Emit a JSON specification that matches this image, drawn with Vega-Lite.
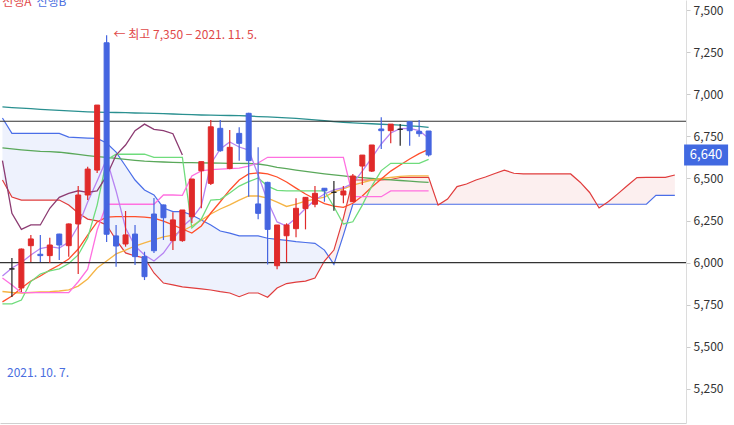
{
  "$schema": "https://vega.github.io/schema/vega-lite/v6.json",
  "width": 686,
  "height": 423,
  "autosize": {"type": "none"},
  "padding": {"left": 0, "top": 0, "right": 48, "bottom": 2},
  "background": "white",
  "config": {
    "view": {"stroke": null},
    "font": "Noto Sans CJK KR",
    "axisX": {"labels": false, "ticks": false, "grid": false, "domainColor": "#d0d0d0"},
    "axisY": {"grid": false, "domainColor": "#dcdcdc", "tickColor": "#cccccc", "tickSize": 4, "labelPadding": 3, "labelColor": "#333333", "labelFontSize": 12, "labelFont": "Noto Sans CJK KR"}
  },
  "datasets": {
    "k": [
      {"i":0,"o":5963,"h":6028,"l":5796,"c":5963},
      {"i":1,"o":5850,"h":6085,"l":5826,"c":6081},
      {"i":2,"o":6101,"h":6165,"l":6004,"c":6141},
      {"i":3,"o":6050,"h":6165,"l":6004,"c":6042},
      {"i":4,"o":6042,"h":6148,"l":5998,"c":6105},
      {"i":5,"o":6170,"h":6172,"l":6016,"c":6105},
      {"i":6,"o":6101,"h":6232,"l":6036,"c":6230},
      {"i":7,"o":6230,"h":6455,"l":5933,"c":6402},
      {"i":8,"o":6402,"h":6570,"l":6372,"c":6556},
      {"i":9,"o":6550,"h":6936,"l":6533,"c":6936},
      {"i":10,"o":7306,"h":7350,"l":6123,"c":6169},
      {"i":11,"o":6159,"h":6224,"l":5976,"c":6099},
      {"i":12,"o":6111,"h":6307,"l":6095,"c":6165},
      {"i":13,"o":6170,"h":6224,"l":5986,"c":6036},
      {"i":14,"o":6036,"h":6065,"l":5897,"c":5917},
      {"i":15,"o":6289,"h":6384,"l":6058,"c":6071},
      {"i":16,"o":6343,"h":6345,"l":6135,"c":6267},
      {"i":17,"o":6131,"h":6300,"l":6075,"c":6254},
      {"i":18,"o":6131,"h":6313,"l":6125,"c":6313},
      {"i":19,"o":6273,"h":6497,"l":6236,"c":6497},
      {"i":20,"o":6546,"h":6600,"l":6323,"c":6600},
      {"i":21,"o":6471,"h":6847,"l":6461,"c":6807},
      {"i":22,"o":6798,"h":6847,"l":6659,"c":6665},
      {"i":23,"o":6560,"h":6788,"l":6555,"c":6685},
      {"i":24,"o":6768,"h":6804,"l":6606,"c":6709},
      {"i":25,"o":6887,"h":6890,"l":6392,"c":6606},
      {"i":26,"o":6349,"h":6685,"l":6258,"c":6293},
      {"i":27,"o":6477,"h":6480,"l":5990,"c":6198},
      {"i":28,"o":5982,"h":6224,"l":5961,"c":6224},
      {"i":29,"o":6160,"h":6234,"l":6002,"c":6224},
      {"i":30,"o":6202,"h":6382,"l":6151,"c":6323},
      {"i":31,"o":6321,"h":6390,"l":6198,"c":6388},
      {"i":32,"o":6347,"h":6455,"l":6329,"c":6412},
      {"i":33,"o":6442,"h":6442,"l":6362,"c":6427},
      {"i":34,"o":6418,"h":6485,"l":6309,"c":6418},
      {"i":35,"o":6402,"h":6455,"l":6353,"c":6426},
      {"i":36,"o":6362,"h":6527,"l":6360,"c":6515},
      {"i":37,"o":6574,"h":6639,"l":6461,"c":6639},
      {"i":38,"o":6544,"h":6699,"l":6538,"c":6699},
      {"i":39,"o":6794,"h":6863,"l":6675,"c":6784},
      {"i":40,"o":6784,"h":6823,"l":6709,"c":6823},
      {"i":41,"o":6792,"h":6823,"l":6695,"c":6792},
      {"i":42,"o":6837,"h":6840,"l":6695,"c":6784},
      {"i":43,"o":6780,"h":6847,"l":6748,"c":6766},
      {"i":44,"o":6782,"h":6782,"l":6630,"c":6640}
    ],
    "ln": [
      {"i":-1,"ma5":5921,"ma20":5767,"ma60":5829,"ma120":6682,"ma240":6925,"tk":5909,"kj":5755},
      {"i":0,"ma5":5969,"ma20":5802,"ma60":5823,"ma120":6676,"ma240":6921,"tk":5868,"kj":5755},
      {"i":1,"ma5":6001,"ma20":5850,"ma60":5820,"ma120":6670,"ma240":6918,"tk":5822,"kj":5778},
      {"i":2,"ma5":6046,"ma20":5891,"ma60":5823,"ma120":6665,"ma240":6915,"tk":5822,"kj":5888},
      {"i":3,"ma5":6084,"ma20":5921,"ma60":5826,"ma120":6661,"ma240":6911,"tk":5822,"kj":5933},
      {"i":4,"ma5":6095,"ma20":5956,"ma60":5828,"ma120":6659,"ma240":6908,"tk":5822,"kj":5951},
      {"i":5,"ma5":6087,"ma20":5986,"ma60":5832,"ma120":6656,"ma240":6905,"tk":5822,"kj":5963},
      {"i":6,"ma5":6123,"ma20":6022,"ma60":5838,"ma120":6650,"ma240":6902,"tk":5822,"kj":5995},
      {"i":7,"ma5":6218,"ma20":6081,"ma60":5861,"ma120":6643,"ma240":6899,"tk":5887,"kj":6046},
      {"i":8,"ma5":6360,"ma20":6164,"ma60":5903,"ma120":6636,"ma240":6896,"tk":5961,"kj":6147},
      {"i":9,"ma5":6485,"ma20":6242,"ma60":5968,"ma120":6630,"ma240":6894,"tk":6194,"kj":6342},
      {"i":10,"ma5":6616,"ma20":6271,"ma60":6010,"ma120":6625,"ma240":6893,"tk":6347,"kj":6610},
      {"i":11,"ma5":6426,"ma20":6273,"ma60":6052,"ma120":6620,"ma240":6892,"tk":6347,"kj":6644},
      {"i":12,"ma5":6206,"ma20":6273,"ma60":6075,"ma120":6614,"ma240":6891,"tk":6347,"kj":6644},
      {"i":13,"ma5":6099,"ma20":6273,"ma60":6099,"ma120":6608,"ma240":6889,"tk":6347,"kj":6644},
      {"i":14,"ma5":6046,"ma20":6271,"ma60":6117,"ma120":6603,"ma240":6888,"tk":6347,"kj":6644},
      {"i":15,"ma5":6010,"ma20":6265,"ma60":6135,"ma120":6600,"ma240":6887,"tk":6347,"kj":6626},
      {"i":16,"ma5":6057,"ma20":6247,"ma60":6153,"ma120":6598,"ma240":6885,"tk":6402,"kj":6626},
      {"i":17,"ma5":6135,"ma20":6224,"ma60":6164,"ma120":6596,"ma240":6883,"tk":6402,"kj":6626},
      {"i":18,"ma5":6214,"ma20":6200,"ma60":6188,"ma120":6594,"ma240":6881,"tk":6400,"kj":6626},
      {"i":19,"ma5":6262,"ma20":6176,"ma60":6218,"ma120":6594,"ma240":6879,"tk":6515,"kj":6206},
      {"i":20,"ma5":6337,"ma20":6218,"ma60":6253,"ma120":6593,"ma240":6877,"tk":6545,"kj":6259},
      {"i":21,"ma5":6586,"ma20":6295,"ma60":6289,"ma120":6592,"ma240":6876,"tk":6553,"kj":6372},
      {"i":22,"ma5":6675,"ma20":6362,"ma60":6319,"ma120":6591,"ma240":6875,"tk":6556,"kj":6376},
      {"i":23,"ma5":6717,"ma20":6432,"ma60":6343,"ma120":6590,"ma240":6874,"tk":6559,"kj":6414},
      {"i":24,"ma5":6687,"ma20":6491,"ma60":6372,"ma120":6590,"ma240":6873,"tk":6562,"kj":6455},
      {"i":25,"ma5":6669,"ma20":6527,"ma60":6396,"ma120":6589,"ma240":6871,"tk":6574,"kj":6481},
      {"i":26,"ma5":6521,"ma20":6534,"ma60":6396,"ma120":6586,"ma240":6868,"tk":6592,"kj":6503},
      {"i":27,"ma5":6366,"ma20":6527,"ma60":6384,"ma120":6578,"ma240":6866,"tk":6626,"kj":6455},
      {"i":28,"ma5":6242,"ma20":6509,"ma60":6360,"ma120":6566,"ma240":6863,"tk":6626,"kj":6429},
      {"i":29,"ma5":6218,"ma20":6479,"ma60":6334,"ma120":6558,"ma240":6860,"tk":6626,"kj":6427},
      {"i":30,"ma5":6265,"ma20":6443,"ma60":6348,"ma120":6550,"ma240":6857,"tk":6626,"kj":6427},
      {"i":31,"ma5":6322,"ma20":6408,"ma60":6366,"ma120":6542,"ma240":6852,"tk":6626,"kj":6427},
      {"i":32,"ma5":6372,"ma20":6378,"ma60":6378,"ma120":6535,"ma240":6848,"tk":6626,"kj":6427},
      {"i":33,"ma5":6408,"ma20":6351,"ma60":6390,"ma120":6528,"ma240":6843,"tk":6626,"kj":6427},
      {"i":34,"ma5":6432,"ma20":6336,"ma60":6420,"ma120":6522,"ma240":6838,"tk":6626,"kj":6332},
      {"i":35,"ma5":6445,"ma20":6329,"ma60":6438,"ma120":6515,"ma240":6834,"tk":6626,"kj":6230},
      {"i":36,"ma5":6471,"ma20":6353,"ma60":6461,"ma120":6509,"ma240":6830,"tk":6392,"kj":6243},
      {"i":37,"ma5":6544,"ma20":6396,"ma60":6476,"ma120":6505,"ma240":6827,"tk":6392,"kj":6342},
      {"i":38,"ma5":6622,"ma20":6449,"ma60":6491,"ma120":6500,"ma240":6825,"tk":6392,"kj":6455},
      {"i":39,"ma5":6705,"ma20":6497,"ma60":6500,"ma120":6496,"ma240":6822,"tk":6392,"kj":6547},
      {"i":40,"ma5":6770,"ma20":6544,"ma60":6506,"ma120":6492,"ma240":6820,"tk":6426,"kj":6590},
      {"i":41,"ma5":6796,"ma20":6580,"ma60":6512,"ma120":6488,"ma240":6817,"tk":6426,"kj":6590},
      {"i":42,"ma5":6798,"ma20":6616,"ma60":6515,"ma120":6484,"ma240":6813,"tk":6426,"kj":6590},
      {"i":43,"ma5":6785,"ma20":6648,"ma60":6515,"ma120":6480,"ma240":6809,"tk":6426,"kj":6590},
      {"i":44,"ma5":6739,"ma20":6673,"ma60":6515,"ma120":6477,"ma240":6804,"tk":6426,"kj":6614}
    ],
    "ck": [
      {"i":-1,"v":6606},{"i":0,"v":6293},{"i":1,"v":6198},{"i":2,"v":6224},{"i":3,"v":6224},
      {"i":4,"v":6323},{"i":5,"v":6388},{"i":6,"v":6412},{"i":7,"v":6427},{"i":8,"v":6418},
      {"i":9,"v":6426},{"i":10,"v":6515},{"i":11,"v":6639},{"i":12,"v":6699},{"i":13,"v":6784},
      {"i":14,"v":6823},{"i":15,"v":6792},{"i":16,"v":6784},{"i":17,"v":6766},{"i":18,"v":6640}
    ],
    "cl": [
      {"i":-1,"a":6491,"b":6859},{"i":0,"a":6390,"b":6768},{"i":1,"a":6372,"b":6768},{"i":2,"a":6372,"b":6768},
      {"i":3,"a":6372,"b":6768},{"i":4,"a":6372,"b":6768},{"i":5,"a":6372,"b":6768},{"i":6,"a":6343,"b":6746},
      {"i":7,"a":6295,"b":6743},{"i":8,"a":6259,"b":6740},{"i":9,"a":6248,"b":6738},{"i":10,"a":6224,"b":6711},
      {"i":11,"a":6135,"b":6657},{"i":12,"a":6058,"b":6574},{"i":13,"a":6040,"b":6491},{"i":14,"a":6028,"b":6432},
      {"i":15,"a":5939,"b":6402},{"i":16,"a":5879,"b":6325},{"i":17,"a":5868,"b":6303},{"i":18,"a":5856,"b":6303},
      {"i":19,"a":5850,"b":6283},{"i":20,"a":5844,"b":6253},{"i":21,"a":5838,"b":6224},{"i":22,"a":5828,"b":6188},
      {"i":23,"a":5820,"b":6176},{"i":24,"a":5798,"b":6159},{"i":25,"a":5820,"b":6159},{"i":26,"a":5820,"b":6159},
      {"i":27,"a":5795,"b":6145},{"i":28,"a":5850,"b":6138},{"i":29,"a":5876,"b":6132},{"i":30,"a":5885,"b":6125},
      {"i":31,"a":5891,"b":6120},{"i":32,"a":5909,"b":6115},{"i":33,"a":6010,"b":6075},{"i":34,"a":6075,"b":5990},
      {"i":35,"a":6265,"b":6164},{"i":36,"a":6491,"b":6347},{"i":37,"a":6491,"b":6347},{"i":38,"a":6491,"b":6347},
      {"i":39,"a":6491,"b":6347},{"i":40,"a":6494,"b":6347},{"i":41,"a":6506,"b":6347},{"i":42,"a":6507,"b":6347},
      {"i":43,"a":6507,"b":6347},{"i":44,"a":6507,"b":6347},{"i":45,"a":6342,"b":6347},{"i":46,"a":6378,"b":6347},
      {"i":47,"a":6452,"b":6347},{"i":48,"a":6467,"b":6347},{"i":49,"a":6491,"b":6347},{"i":50,"a":6509,"b":6347},
      {"i":51,"a":6530,"b":6347},{"i":52,"a":6550,"b":6347},{"i":53,"a":6531,"b":6347},{"i":54,"a":6527,"b":6347},
      {"i":55,"a":6527,"b":6347},{"i":56,"a":6527,"b":6347},{"i":57,"a":6527,"b":6347},{"i":58,"a":6527,"b":6347},
      {"i":59,"a":6527,"b":6347},{"i":60,"a":6478,"b":6347},{"i":61,"a":6417,"b":6347},{"i":62,"a":6325,"b":6347},
      {"i":63,"a":6363,"b":6347},{"i":64,"a":6410,"b":6347},{"i":65,"a":6458,"b":6347},{"i":66,"a":6505,"b":6347},
      {"i":67,"a":6507,"b":6347},{"i":68,"a":6507,"b":6400},{"i":69,"a":6507,"b":6400},{"i":70,"a":6521,"b":6400}
    ],
    "hl": [{"v":6840},{"v":6000}]
  },
  "layer": [
    {
      "data": {"name": "cl"},
      "transform": [{"filter": "datum.i <= 34"}],
      "mark": {"type": "area", "color": "#eef2fd", "clip": true},
      "encoding": {
        "x": {"field": "i", "type": "quantitative", "scale": {"domain": [-0.73, 70.65], "nice": false, "zero": false}, "axis": {"title": null}},
        "y": {"field": "a", "type": "quantitative", "scale": {"domain": [5048, 7560], "nice": false, "zero": false}, "axis": {"orient": "right", "title": null, "values": [5250, 5500, 5750, 6000, 6250, 6500, 6750, 7000, 7250, 7500], "format": ",d"}},
        "y2": {"field": "b"}
      }
    },
    {
      "data": {"name": "cl"},
      "transform": [{"filter": "datum.i >= 33"}],
      "mark": {"type": "area", "color": "#fcefef", "clip": true},
      "encoding": {
        "x": {"field": "i", "type": "quantitative", "scale": {"domain": [-0.73, 70.65], "nice": false, "zero": false}, "axis": {"title": null}},
        "y": {"field": "a", "type": "quantitative", "scale": {"domain": [5048, 7560], "nice": false, "zero": false}, "axis": {"orient": "right", "title": null, "values": [5250, 5500, 5750, 6000, 6250, 6500, 6750, 7000, 7250, 7500], "format": ",d"}},
        "y2": {"field": "b"}
      }
    },
    {
      "data": {"name": "cl"},
      "mark": {"type": "line", "color": "#4a6ee8", "strokeWidth": 1.2, "clip": true},
      "encoding": {
        "x": {"field": "i", "type": "quantitative", "scale": {"domain": [-0.73, 70.65], "nice": false, "zero": false}, "axis": {"title": null}},
        "y": {"field": "b", "type": "quantitative", "scale": {"domain": [5048, 7560], "nice": false, "zero": false}, "axis": {"orient": "right", "title": null, "values": [5250, 5500, 5750, 6000, 6250, 6500, 6750, 7000, 7250, 7500], "format": ",d"}}
      }
    },
    {
      "data": {"name": "cl"},
      "mark": {"type": "line", "color": "#e03c3c", "strokeWidth": 1.2, "clip": true},
      "encoding": {
        "x": {"field": "i", "type": "quantitative", "scale": {"domain": [-0.73, 70.65], "nice": false, "zero": false}, "axis": {"title": null}},
        "y": {"field": "a", "type": "quantitative", "scale": {"domain": [5048, 7560], "nice": false, "zero": false}, "axis": {"orient": "right", "title": null, "values": [5250, 5500, 5750, 6000, 6250, 6500, 6750, 7000, 7250, 7500], "format": ",d"}}
      }
    },
    {
      "data": {"name": "ln"},
      "mark": {"type": "line", "color": "#2a9090", "strokeWidth": 1.3, "clip": true},
      "encoding": {
        "x": {"field": "i", "type": "quantitative", "scale": {"domain": [-0.73, 70.65], "nice": false, "zero": false}, "axis": {"title": null}},
        "y": {"field": "ma240", "type": "quantitative", "scale": {"domain": [5048, 7560], "nice": false, "zero": false}, "axis": {"orient": "right", "title": null, "values": [5250, 5500, 5750, 6000, 6250, 6500, 6750, 7000, 7250, 7500], "format": ",d"}}
      }
    },
    {
      "data": {"name": "ln"},
      "mark": {"type": "line", "color": "#5aa85a", "strokeWidth": 1.3, "clip": true},
      "encoding": {
        "x": {"field": "i", "type": "quantitative", "scale": {"domain": [-0.73, 70.65], "nice": false, "zero": false}, "axis": {"title": null}},
        "y": {"field": "ma120", "type": "quantitative", "scale": {"domain": [5048, 7560], "nice": false, "zero": false}, "axis": {"orient": "right", "title": null, "values": [5250, 5500, 5750, 6000, 6250, 6500, 6750, 7000, 7250, 7500], "format": ",d"}}
      }
    },
    {
      "data": {"name": "ln"},
      "mark": {"type": "line", "color": "#f5b445", "strokeWidth": 1.3, "clip": true},
      "encoding": {
        "x": {"field": "i", "type": "quantitative", "scale": {"domain": [-0.73, 70.65], "nice": false, "zero": false}, "axis": {"title": null}},
        "y": {"field": "ma60", "type": "quantitative", "scale": {"domain": [5048, 7560], "nice": false, "zero": false}, "axis": {"orient": "right", "title": null, "values": [5250, 5500, 5750, 6000, 6250, 6500, 6750, 7000, 7250, 7500], "format": ",d"}}
      }
    },
    {
      "data": {"name": "ln"},
      "mark": {"type": "line", "color": "#ff4f2b", "strokeWidth": 1.3, "clip": true},
      "encoding": {
        "x": {"field": "i", "type": "quantitative", "scale": {"domain": [-0.73, 70.65], "nice": false, "zero": false}, "axis": {"title": null}},
        "y": {"field": "ma20", "type": "quantitative", "scale": {"domain": [5048, 7560], "nice": false, "zero": false}, "axis": {"orient": "right", "title": null, "values": [5250, 5500, 5750, 6000, 6250, 6500, 6750, 7000, 7250, 7500], "format": ",d"}}
      }
    },
    {
      "data": {"name": "ln"},
      "mark": {"type": "line", "color": "#6fdc7c", "strokeWidth": 1.3, "clip": true},
      "encoding": {
        "x": {"field": "i", "type": "quantitative", "scale": {"domain": [-0.73, 70.65], "nice": false, "zero": false}, "axis": {"title": null}},
        "y": {"field": "kj", "type": "quantitative", "scale": {"domain": [5048, 7560], "nice": false, "zero": false}, "axis": {"orient": "right", "title": null, "values": [5250, 5500, 5750, 6000, 6250, 6500, 6750, 7000, 7250, 7500], "format": ",d"}}
      }
    },
    {
      "data": {"name": "ln"},
      "mark": {"type": "line", "color": "#ff70e0", "strokeWidth": 1.3, "clip": true},
      "encoding": {
        "x": {"field": "i", "type": "quantitative", "scale": {"domain": [-0.73, 70.65], "nice": false, "zero": false}, "axis": {"title": null}},
        "y": {"field": "tk", "type": "quantitative", "scale": {"domain": [5048, 7560], "nice": false, "zero": false}, "axis": {"orient": "right", "title": null, "values": [5250, 5500, 5750, 6000, 6250, 6500, 6750, 7000, 7250, 7500], "format": ",d"}}
      }
    },
    {
      "data": {"name": "ln"},
      "mark": {"type": "line", "color": "#b784f2", "strokeWidth": 1.3, "clip": true},
      "encoding": {
        "x": {"field": "i", "type": "quantitative", "scale": {"domain": [-0.73, 70.65], "nice": false, "zero": false}, "axis": {"title": null}},
        "y": {"field": "ma5", "type": "quantitative", "scale": {"domain": [5048, 7560], "nice": false, "zero": false}, "axis": {"orient": "right", "title": null, "values": [5250, 5500, 5750, 6000, 6250, 6500, 6750, 7000, 7250, 7500], "format": ",d"}}
      }
    },
    {
      "data": {"name": "ck"},
      "mark": {"type": "line", "color": "#8c3b72", "strokeWidth": 1.3, "clip": true},
      "encoding": {
        "x": {"field": "i", "type": "quantitative", "scale": {"domain": [-0.73, 70.65], "nice": false, "zero": false}, "axis": {"title": null}},
        "y": {"field": "v", "type": "quantitative", "scale": {"domain": [5048, 7560], "nice": false, "zero": false}, "axis": {"orient": "right", "title": null, "values": [5250, 5500, 5750, 6000, 6250, 6500, 6750, 7000, 7250, 7500], "format": ",d"}}
      }
    },
    {
      "data": {"name": "hl"},
      "mark": {"type": "rule", "color": "#333333", "strokeWidth": 1.2},
      "encoding": {
        "y": {"field": "v", "type": "quantitative", "scale": {"domain": [5048, 7560], "nice": false, "zero": false}, "axis": {"orient": "right", "title": null, "values": [5250, 5500, 5750, 6000, 6250, 6500, 6750, 7000, 7250, 7500], "format": ",d"}}
      }
    },
    {
      "data": {"name": "k"},
      "mark": {"type": "rule", "strokeWidth": 1.2},
      "encoding": {
        "x": {"field": "i", "type": "quantitative", "scale": {"domain": [-0.73, 70.65], "nice": false, "zero": false}, "axis": {"title": null}},
        "y": {"field": "l", "type": "quantitative", "scale": {"domain": [5048, 7560], "nice": false, "zero": false}, "axis": {"orient": "right", "title": null, "values": [5250, 5500, 5750, 6000, 6250, 6500, 6750, 7000, 7250, 7500], "format": ",d"}},
        "y2": {"field": "h"},
        "color": {"condition": [{"test": "datum.c > datum.o", "value": "#e02a2a"}, {"test": "datum.c < datum.o", "value": "#4565e0"}], "value": "#222222"}
      }
    },
    {
      "data": {"name": "k"},
      "mark": {"type": "bar", "width": 5, "strokeWidth": 1},
      "encoding": {
        "x": {"field": "i", "type": "quantitative", "scale": {"domain": [-0.73, 70.65], "nice": false, "zero": false}, "axis": {"title": null}},
        "y": {"field": "o", "type": "quantitative", "scale": {"domain": [5048, 7560], "nice": false, "zero": false}, "axis": {"orient": "right", "title": null, "values": [5250, 5500, 5750, 6000, 6250, 6500, 6750, 7000, 7250, 7500], "format": ",d"}},
        "y2": {"field": "c"},
        "color": {"condition": [{"test": "datum.c > datum.o", "value": "#e02a2a"}, {"test": "datum.c < datum.o", "value": "#4565e0"}], "value": "#222222"},
        "stroke": {"condition": [{"test": "datum.c > datum.o", "value": "#e02a2a"}, {"test": "datum.c < datum.o", "value": "#4565e0"}], "value": "#222222"}
      }
    },
    {
      "data": {"values": [{"i": 10, "v": 7350, "label": "← 최고 7,350 − 2021. 11. 5."}]},
      "mark": {"type": "text", "align": "left", "baseline": "middle", "dx": 7, "fontSize": 12, "color": "#e04848"},
      "encoding": {
        "x": {"field": "i", "type": "quantitative", "scale": {"domain": [-0.73, 70.65], "nice": false, "zero": false}, "axis": {"title": null}},
        "y": {"field": "v", "type": "quantitative", "scale": {"domain": [5048, 7560], "nice": false, "zero": false}, "axis": {"orient": "right", "title": null, "values": [5250, 5500, 5750, 6000, 6250, 6500, 6750, 7000, 7250, 7500], "format": ",d"}},
        "text": {"field": "label"}
      }
    },
    {
      "data": {"values": [{"i": -0.73, "v": 5345, "label": "2021. 10. 7."}]},
      "mark": {"type": "text", "align": "left", "baseline": "middle", "dx": 2, "fontSize": 12, "color": "#4a6ee0"},
      "encoding": {
        "x": {"field": "i", "type": "quantitative", "scale": {"domain": [-0.73, 70.65], "nice": false, "zero": false}, "axis": {"title": null}},
        "y": {"field": "v", "type": "quantitative", "scale": {"domain": [5048, 7560], "nice": false, "zero": false}, "axis": {"orient": "right", "title": null, "values": [5250, 5500, 5750, 6000, 6250, 6500, 6750, 7000, 7250, 7500], "format": ",d"}},
        "text": {"field": "label"}
      }
    },
    {
      "data": {"values": [{"i": 2.08, "v": 7551, "label": "선행A"}]},
      "mark": {"type": "text", "align": "right", "baseline": "middle", "fontSize": 12, "color": "#e04848"},
      "encoding": {
        "x": {"field": "i", "type": "quantitative", "scale": {"domain": [-0.73, 70.65], "nice": false, "zero": false}, "axis": {"title": null}},
        "y": {"field": "v", "type": "quantitative", "scale": {"domain": [5048, 7560], "nice": false, "zero": false}, "axis": {"orient": "right", "title": null, "values": [5250, 5500, 5750, 6000, 6250, 6500, 6750, 7000, 7250, 7500], "format": ",d"}},
        "text": {"field": "label"}
      }
    },
    {
      "data": {"values": [{"i": 2.6, "v": 7551, "label": "선행B"}]},
      "mark": {"type": "text", "align": "left", "baseline": "middle", "fontSize": 12, "color": "#4a6ee0"},
      "encoding": {
        "x": {"field": "i", "type": "quantitative", "scale": {"domain": [-0.73, 70.65], "nice": false, "zero": false}, "axis": {"title": null}},
        "y": {"field": "v", "type": "quantitative", "scale": {"domain": [5048, 7560], "nice": false, "zero": false}, "axis": {"orient": "right", "title": null, "values": [5250, 5500, 5750, 6000, 6250, 6500, 6750, 7000, 7250, 7500], "format": ",d"}},
        "text": {"field": "label"}
      }
    },
    {
      "data": {"values": [{"i": 73.3, "v": 6640, "label": "6,640"}]},
      "mark": {"type": "point", "filled": true, "opacity": 1, "size": 1936, "shape": "M -1 -0.477 L 1 -0.477 L 1 0.477 L -1 0.477 Z", "color": "#4169e1"},
      "encoding": {
        "x": {"field": "i", "type": "quantitative", "scale": {"domain": [-0.73, 70.65], "nice": false, "zero": false}, "axis": {"title": null}},
        "y": {"field": "v", "type": "quantitative", "scale": {"domain": [5048, 7560], "nice": false, "zero": false}, "axis": {"orient": "right", "title": null, "values": [5250, 5500, 5750, 6000, 6250, 6500, 6750, 7000, 7250, 7500], "format": ",d"}}
      }
    },
    {
      "data": {"values": [{"i": 73.3, "v": 6640, "label": "6,640"}]},
      "mark": {"type": "text", "align": "center", "baseline": "middle", "fontSize": 13, "color": "white"},
      "encoding": {
        "x": {"field": "i", "type": "quantitative", "scale": {"domain": [-0.73, 70.65], "nice": false, "zero": false}, "axis": {"title": null}},
        "y": {"field": "v", "type": "quantitative", "scale": {"domain": [5048, 7560], "nice": false, "zero": false}, "axis": {"orient": "right", "title": null, "values": [5250, 5500, 5750, 6000, 6250, 6500, 6750, 7000, 7250, 7500], "format": ",d"}},
        "text": {"field": "label"}
      }
    }
  ]
}
